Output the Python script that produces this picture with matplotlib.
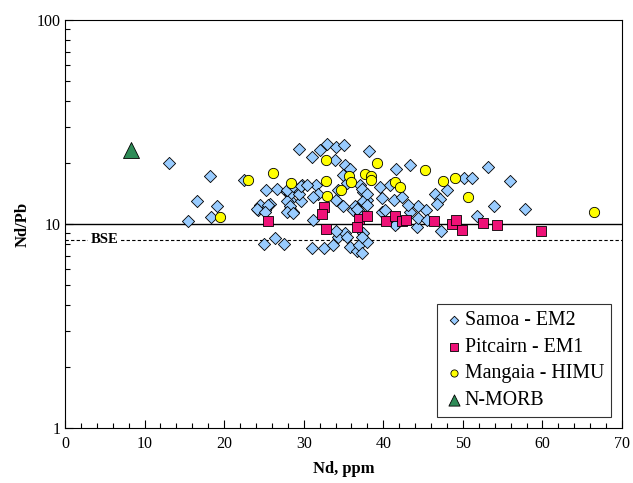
import matplotlib
matplotlib.use("Agg")
import matplotlib.pyplot as plt
from matplotlib.ticker import MultipleLocator, LogLocator, NullFormatter, FixedLocator, FixedFormatter

plt.rcParams['font.family'] = ['Liberation Serif', 'DejaVu Serif']

# Samoa - EM2
samoa_nd = [13.1, 18.2, 16.6, 19.1, 18.3, 15.4,
            22.5, 25.2, 26.6, 24.5, 25.8, 24.3, 25.1, 25.0, 26.4, 27.5, 27.85, 29.2, 29.8,
            28.3, 29.7, 28.3, 28.7, 29.4, 28.3, 29.4, 27.9, 28.3, 27.9, 28.7, 25.5, 24.1,
            25.1, 27.9, 28.7, 29.7,
            31.1, 32.05, 32.9, 34.0, 35.1, 33.9, 35.2, 35.8, 31.6, 31.8, 31.2, 34.1, 35.0,
            36.2, 31.2, 31.0, 32.5, 33.7, 34.35, 35.2, 35.8, 36.7, 30.4, 35.0, 35.4, 34.3,
            37.1, 37.5, 37.9, 36.4, 37.1, 34.1, 36.9, 37.5, 37.9, 37.3, 39.8, 39.6, 37.3,
            37.5, 36.7, 35.4, 37.3,
            38.25, 43.4, 41.6, 50.1, 51.2, 53.1, 55.9, 57.8, 53.95, 51.8, 48.05, 46.5, 47.1,
            47.25, 45.4, 44.4, 43.4, 44.2, 39.9, 41.4, 42.4, 40.2, 41.7, 43.1, 44.4, 45.5,
            41.5, 46.7, 40.8, 37.9, 37.9]
samoa_ndpb = [19.8, 17.2, 13.0, 12.2, 10.8, 10.3,
              16.4, 14.7, 14.9, 12.4, 12.6, 11.7, 11.7, 7.95, 8.5, 7.98, 14.4, 14.6, 15.6,
              13.1, 13.0, 11.9, 11.5, 23.3, 14.1, 14.1, 12.9, 12.2, 11.5, 11.3, 12.4, 11.9,
              11.5, 14.7, 15.4, 15.4,
              21.4, 23.1, 24.6, 23.9, 24.4, 20.6, 19.5, 18.7, 15.5, 14.1, 13.6, 13.1, 12.2,
              11.7, 10.45, 7.6, 7.6, 7.9, 8.67, 9.0, 7.74, 7.4, 15.5, 17.4, 15.8, 14.7,
              15.5, 14.4, 13.1, 12.2, 11.5, 9.2, 7.9, 9.0, 8.2, 7.2, 11.5, 15.2, 14.9,
              12.9, 11.9, 8.67, 8.67,
              22.9, 19.5, 18.7, 16.9, 16.9, 19.1, 16.3, 11.8, 12.2, 10.9, 14.7, 14.1, 13.3,
              9.2, 11.7, 12.2, 11.5, 9.7, 13.4, 13.1, 13.6, 11.7, 10.1, 12.4, 10.7, 10.45,
              9.9, 12.6, 15.5, 14.1, 12.4]

# Pitcairn - EM1
pitcairn_nd = [25.5, 32.5, 32.3, 32.8, 36.9, 37.9, 36.7, 40.3, 41.5, 42.3, 42.9, 46.4,
               48.6, 49.2, 49.85, 52.5, 54.25, 59.8]
pitcairn_ndpb = [10.3, 12.1, 11.2, 9.4, 10.6, 10.9, 9.7, 10.4, 10.9, 10.4, 10.5, 10.4,
                 10.0, 10.5, 9.3, 10.15, 9.9, 9.25]

# Mangaia - HIMU
mangaia_nd = [19.5, 23.0, 26.2, 28.4, 32.8, 32.8, 32.9, 34.7, 35.7, 36.0, 37.7, 38.5,
              38.5, 39.2, 41.5, 42.1, 45.2, 47.5, 49.0, 50.7, 66.5]
mangaia_ndpb = [10.8, 16.4, 17.7, 15.8, 20.7, 16.3, 13.7, 14.7, 17.1, 16.0, 17.6, 17.1,
                16.4, 20.0, 16.1, 15.2, 18.4, 16.3, 16.9, 13.5, 11.5]

# N-MORB
nmorb_nd = [8.3]
nmorb_ndpb = [23.0]

ref_primitive = 10.0
ref_bse = 8.35

fig = plt.figure(figsize=(6.33, 4.83), dpi=100)
ax = fig.add_axes([0.1027, 0.1139, 0.8799, 0.8447])

ax.axhline(ref_primitive, color='black', lw=1.0, zorder=1)
ax.axhline(ref_bse, color='black', lw=0.8, ls=(0, (3, 2)), zorder=1)
ax.text(5.0, ref_bse, 'BSE', fontsize=10.5, fontweight='bold', ha='center', va='center',
        bbox=dict(facecolor='white', edgecolor='none', pad=2.0), zorder=2)

ax.scatter(samoa_nd, samoa_ndpb, marker='D', s=6.2**2, facecolor='#99CCFF',
           edgecolor='black', linewidth=0.6, zorder=3, label='Samoa - EM2')
ax.scatter(pitcairn_nd, pitcairn_ndpb, marker='s', s=7.4**2, facecolor='#EE1177',
           edgecolor='black', linewidth=0.6, zorder=4, label='Pitcairn - EM1')
ax.scatter(mangaia_nd, mangaia_ndpb, marker='o', s=7.4**2, facecolor='#FFFF00',
           edgecolor='black', linewidth=0.6, zorder=5, label='Mangaia - HIMU')
ax.scatter(nmorb_nd, nmorb_ndpb, marker='^', s=11.5**2, facecolor='#2E8B57',
           edgecolor='black', linewidth=0.6, zorder=6, label='N-MORB')

ax.set_yscale('log')
ax.set_xlim(0, 70)
ax.set_ylim(1, 100)
ax.xaxis.set_major_locator(MultipleLocator(10))
ax.xaxis.set_minor_locator(MultipleLocator(2))
ax.yaxis.set_major_locator(FixedLocator([1, 10, 100]))
ax.yaxis.set_major_formatter(FixedFormatter(['1', '10', '100']))
ax.yaxis.set_minor_locator(LogLocator(base=10, subs=range(2, 10)))
ax.yaxis.set_minor_formatter(NullFormatter())
ax.tick_params(which='both', direction='in', top=False, right=False, labelsize=11.5)
ax.tick_params(which='major', length=6, width=0.8)
ax.tick_params(which='minor', length=3.5, width=0.8)
ax.tick_params(axis='x', pad=6)

ax.set_xlabel('Nd, ppm', fontsize=12, fontweight='bold', labelpad=6)
ax.set_ylabel('Nd/Pb', fontsize=12, fontweight='bold', labelpad=4)

leg = ax.legend(loc='lower right', bbox_to_anchor=(0.9803, 0.027), fontsize=14.3, frameon=True,
                fancybox=False, edgecolor='black', handletextpad=0.05, borderpad=0.35,
                labelspacing=0.38, markerscale=0.7, handlelength=1.0, borderaxespad=0)
leg.get_frame().set_linewidth(0.8)

fig.savefig('out.png', dpi=100)
